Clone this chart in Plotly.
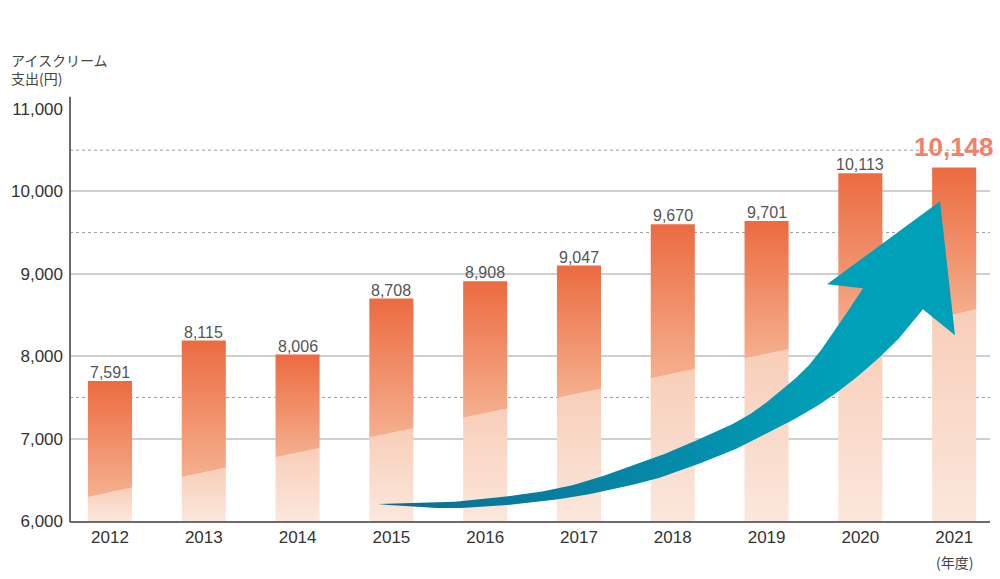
import numpy as np
import plotly.graph_objects as go

# ---------------- data ----------------
years = ["2012", "2013", "2014", "2015", "2016", "2017", "2018", "2019", "2020", "2021"]
spending_labels = [7591, 8115, 8006, 8708, 8908, 9047, 9670, 9701, 10113, 10148]
# bar heights as drawn in the picture (yen)
bar_heights = [7700, 8190, 8020, 8700, 8910, 9100, 9600, 9640, 10220, 10290]
y_tick_vals = [6000, 7000, 8000, 9000, 10000, 11000]
y_tick_text = ["6,000", "7,000", "8,000", "9,000", "10,000", "11,000"]
dotted_levels = [7500, 9500, 10500]

# ---------------- style constants ----------------
BASE = 6000
BAR_HALF = 0.235
SPLIT_A, SPLIT_B = 6349, 240  # diagonal split line across bars (value = A + B*x)
NUM_FONT = "Liberation Sans, Arial, sans-serif"
JP_FONT = "Noto Sans CJK JP, sans-serif"

fig = go.Figure()

for i, top in enumerate(bar_heights):
    xl, xr = i - BAR_HALF, i + BAR_HALF
    bl, br = SPLIT_A + SPLIT_B * xl, SPLIT_A + SPLIT_B * xr
    # light lower part
    fig.add_trace(go.Scatter(
        x=[xl, xr, xr, xl, xl], y=[BASE, BASE, br, bl, BASE],
        fill="toself", mode="lines", line=dict(width=0),
        fillgradient=dict(type="vertical",
                          colorscale=[[0, "#FBE7DC"], [1, "#F8CEB9"]],
                          start=BASE, stop=br),
        hoverinfo="skip", showlegend=False))
    # orange upper part
    fig.add_trace(go.Scatter(
        x=[xl, xr, xr, xl, xl], y=[bl, br, top, top, bl],
        fill="toself", mode="lines", line=dict(width=0),
        fillgradient=dict(type="vertical",
                          colorscale=[[0, "#F5B08F"], [1, "#EC6B40"]],
                          start=bl, stop=top),
        hoverinfo="skip", showlegend=False))


# ---------------- arrow (decoration) ----------------
SX, SY = 93.8, 0.0825  # approximate screen scale used only for smoothing


def catmull(pts, n=16):
    p = np.array(pts, dtype=float) * [SX, SY]
    p = np.vstack([p[0] + (p[0] - p[1]), p, p[-1] + (p[-1] - p[-2])])
    out = []
    for k in range(1, len(p) - 2):
        p0, p1, p2, p3 = p[k - 1], p[k], p[k + 1], p[k + 2]
        for t in np.linspace(0, 1, n, endpoint=False):
            t2, t3 = t * t, t * t * t
            out.append(0.5 * ((2 * p1) + (-p0 + p2) * t +
                              (2 * p0 - 5 * p1 + 4 * p2 - p3) * t2 +
                              (-p0 + 3 * p1 - 3 * p2 + p3) * t3))
    out.append(p[-2])
    return np.array(out) / [SX, SY]


upper_edge = [(2.857, 6206), (3.731, 6240), (4.797, 6400), (5.650, 6703), (6.183, 6945),
              (6.716, 7224), (7.068, 7503), (7.431, 7867), (7.708, 8279), (7.921, 8642),
              (8.028, 8824)]
head = [(7.644, 8873), (8.849, 9879), (9.009, 8255)]
lower_edge = [(8.667, 8570), (8.422, 8230), (8.134, 7915), (7.783, 7588), (7.431, 7321),
              (7.068, 7103), (6.716, 6897), (6.183, 6655), (5.650, 6461), (4.797, 6267),
              (3.731, 6158), (2.857, 6200)]

up = catmull(upper_edge)
lo = catmull(lower_edge)
arrow = np.vstack([up, np.array(head), lo, up[:1]])
fig.add_trace(go.Scatter(
    x=arrow[:, 0], y=arrow[:, 1], fill="toself", mode="lines", line=dict(width=0),
    fillgradient=dict(type="horizontal",
                      colorscale=[[0, "#0B6D92"], [0.5, "#058AA9"], [0.8, "#00A0B8"], [1, "#00A0B8"]],
                      start=2.85, stop=9.0),
    hoverinfo="skip", showlegend=False))

# ---------------- annotations ----------------
annotations = []
for i, (val, top) in enumerate(zip(spending_labels, bar_heights)):
    if i == len(years) - 1:
        annotations.append(dict(x=i, y=top, xref="x", yref="y", text=f"{val:,}",
                                showarrow=False, yanchor="bottom", yshift=4,
                                font=dict(family=NUM_FONT, size=26, color="#EF8268", weight="bold")))
    else:
        annotations.append(dict(x=i, y=top, xref="x", yref="y", text=f"{val:,}",
                                showarrow=False, yanchor="bottom", yshift=-2,
                                font=dict(family=NUM_FONT, size=16, color="#555555")))

annotations.append(dict(x=-0.066, y=1.046, xref="paper", yref="paper", xanchor="left", yanchor="bottom",
                        text="アイスクリーム<br>支出(円)", showarrow=False, align="left",
                        font=dict(family=JP_FONT, size=14, color="#444444")))
annotations.append(dict(x=9, y=-0.1, xref="x", yref="paper", xanchor="center", yanchor="middle",
                        text="(年度)", showarrow=False,
                        font=dict(family=JP_FONT, size=14, color="#444444")))

shapes = []
for lv in dotted_levels:
    shapes.append(dict(type="line", xref="paper", x0=0, x1=1, yref="y", y0=lv, y1=lv,
                       layer="below", line=dict(color="#9a9a9a", width=1, dash="dot")))
shapes.append(dict(type="line", xref="paper", x0=0, x1=0, yref="paper", y0=-0.003, y1=1.03,
                   line=dict(color="#6b6b6b", width=2)))

fig.update_layout(
    width=1000, height=579,
    margin=dict(l=70, r=10, t=109, b=58),
    paper_bgcolor="white", plot_bgcolor="white",
    showlegend=False,
    annotations=annotations,
    shapes=shapes,
    xaxis=dict(range=[-0.4264, 9.382], tickmode="array", tickvals=list(range(len(years))),
               ticktext=years, showgrid=False, zeroline=False, showline=True,
               linecolor="#6b6b6b", linewidth=2, ticks="",
               tickfont=dict(family=NUM_FONT, size=17, color="#333333"), fixedrange=True),
    yaxis=dict(range=[6000, 11000], tickmode="array", tickvals=y_tick_vals, ticktext=y_tick_text,
               showgrid=True, gridcolor="#cfcfcf", gridwidth=1.5, zeroline=False, showline=False,
               ticks="", ticklabelstandoff=6,
               tickfont=dict(family=NUM_FONT, size=17, color="#333333"), fixedrange=True),
)

fig.write_html("out.html")
